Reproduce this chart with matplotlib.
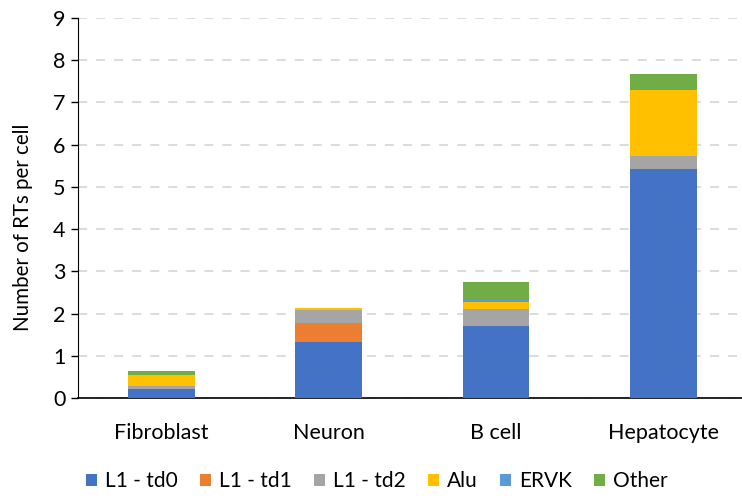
import matplotlib
matplotlib.use("Agg")
import matplotlib.pyplot as plt
import numpy as np

plt.rcParams['font.family'] = ['Lato', 'DejaVu Sans']

categories = ["Fibroblast", "Neuron", "B cell", "Hepatocyte"]
series_names = ["L1 - td0", "L1 - td1", "L1 - td2", "Alu", "ERVK", "Other"]
l1_td0 = [0.22, 1.33, 1.71, 5.42]
l1_td1 = [0.00, 0.45, 0.00, 0.00]
l1_td2 = [0.07, 0.30, 0.40, 0.30]
alu    = [0.25, 0.05, 0.17, 1.57]
ervk   = [0.00, 0.00, 0.06, 0.01]
other  = [0.11, 0.00, 0.41, 0.38]
colors = ["#4472C4", "#ED7D31", "#A5A5A5", "#FFC000", "#5B9BD5", "#70AD47"]
yticks = list(range(0, 10))

fig = plt.figure(figsize=(7.42, 4.98), dpi=100)
ax = fig.add_axes([78/742, 100/498, 664/742, 380/498])

x = np.arange(len(categories))
bottom = np.zeros(len(categories))
for name, vals, c in zip(series_names, [l1_td0, l1_td1, l1_td2, alu, ervk, other], colors):
    vals = np.array(vals)
    ax.bar(x, vals, width=0.4, bottom=bottom, color=c, label=name, zorder=3)
    bottom += vals

ax.set_xlim(-0.5, -0.5 + 664/167.2)
ax.set_ylim(0, 9)
ax.set_yticks(yticks)
ax.set_xticks(x)
ax.set_xticklabels(categories, fontsize=15.5)
ax.tick_params(axis='y', labelsize=15.5, length=5, width=1, color='black', pad=4)
ax.tick_params(axis='x', length=0, pad=18)
ax.set_ylabel("Number of RTs per cell", fontsize=14.8, va='center')
ax.yaxis.set_label_coords(-0.083, 0.45)

ax.grid(axis='y', color='#D9D9D9', linestyle=(0, (5, 5)), linewidth=1.3, zorder=0)
for s in ['top', 'right']:
    ax.spines[s].set_visible(False)
ax.spines['left'].set_color('black')
ax.spines['bottom'].set_color('black')
ax.spines['bottom'].set_linewidth(1.2)

fig.legend(loc='center', bbox_to_anchor=(377/742, 0.034), ncol=6, frameon=False,
           fontsize=15, handlelength=0.53, handleheight=0.53, handletextpad=0.4,
           columnspacing=1.05, borderpad=0, borderaxespad=0)

fig.savefig("out.png", dpi=100)
